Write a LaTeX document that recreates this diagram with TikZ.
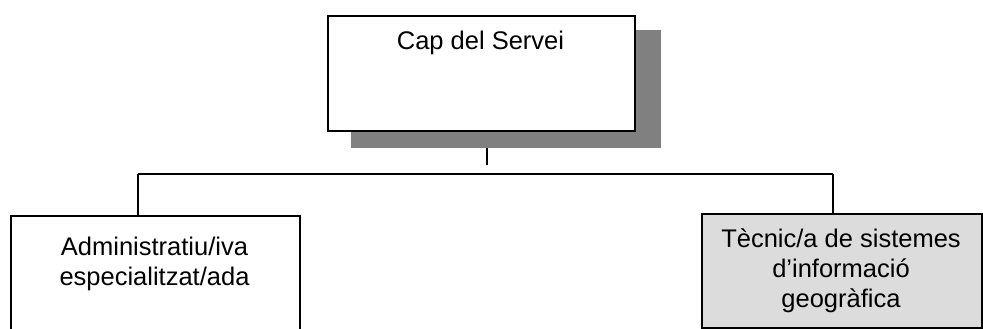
\documentclass[tikz,border=0pt]{standalone}
\usepackage{fontspec}
\setmainfont{Liberation Sans}
\begin{document}
\begin{tikzpicture}[x=1pt,y=-1pt,
  box/.style={draw=black, line width=1.6pt, fill=white, inner sep=0pt},
  graybox/.style={box, fill=boxgray},
  shade/.style={fill=shadowgray},
  txt/.style={font=\fontsize{25.5}{30}\selectfont, align=center, inner sep=0pt},
  link/.style={draw=black, line width=1.6pt}]
\definecolor{boxgray}{HTML}{DCDCDC}
\definecolor{shadowgray}{HTML}{808080}
\useasboundingbox (0,0) rectangle (983,329);
\clip (0,0) rectangle (983,329);
% head of the service, with drop shadow
\fill[shade] (351,30) rectangle (661,148);
\node[box, minimum width=307, minimum height=115, anchor=north west] (cap) at (327,15) {};
\node[txt, anchor=base] (capt) at (480.5,50) {Cap del Servei};
% subordinate units (last-line baselines given)
\node[box, minimum width=289, minimum height=140, anchor=north west] (adm) at (10,215) {};
\node[txt, anchor=base] (admt) at (154.5,285) {Administratiu/iva\\especialitzat/ada};
\node[graybox, minimum width=280, minimum height=114, anchor=north west] (tec) at (701,213) {};
\node[txt, anchor=base] (tect) at (841,307) {Tècnic/a de sistemes\\d’informació\\geogràfica};
% connectors
\coordinate (stubtop) at (487,148);
\coordinate (stubend) at (487,165);
\coordinate (busl) at (138,174);
\coordinate (busr) at (833,174);
\draw[link] (stubtop) -- (stubend);
\draw[link] (busl) -- (busr);
\draw[link] (busl) -- (busl |- adm.north);
\draw[link] (busr) -- (busr |- tec.north);
\end{tikzpicture}
\end{document}
